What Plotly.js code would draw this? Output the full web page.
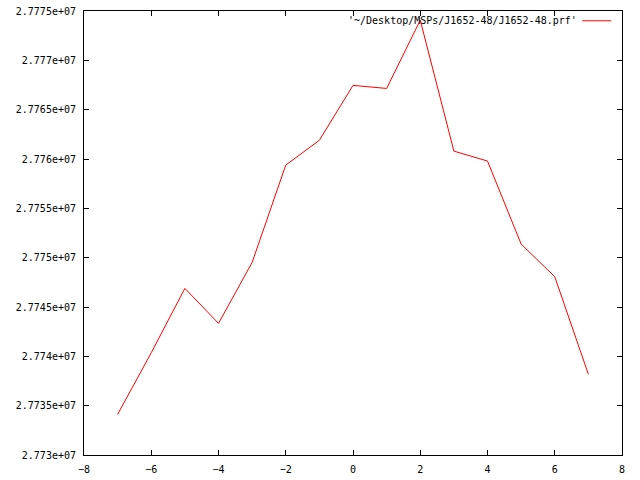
<!DOCTYPE html>
<html>
<head>
<meta charset="utf-8">
<script src="https://cdn.plot.ly/plotly-3.0.1.min.js"></script>
<style>html,body{margin:0;padding:0;background:#fff;}#chart{width:640px;height:480px;}</style>
</head>
<body>
<div id="chart"></div>
<script>
const xValues = [-7, -6, -5, -4, -3, -2, -1, 0, 1, 2, 3, 4, 5, 6, 7];
const yValues = [27734120, 27740360, 27746890, 27743340, 27749520, 27759380, 27761900,
                 27767460, 27767150, 27774070, 27760800, 27759790, 27751380, 27748070, 27738180];
const seriesName = "'~/Desktop/MSPs/J1652-48/J1652-48.prf'";
const xTickVals = [-8, -6, -4, -2, 0, 2, 4, 6, 8];
const yTickVals = [27730000, 27735000, 27740000, 27745000, 27750000, 27755000, 27760000, 27765000, 27770000, 27775000];
const yTickText = ["2.773e+07", "2.7735e+07", "2.774e+07", "2.7745e+07", "2.775e+07",
                   "2.7755e+07", "2.776e+07", "2.7765e+07", "2.777e+07", "2.7775e+07"];

const font = {family: "DejaVu Sans Mono, monospace", size: 10, color: "#000"};

const trace = {
  x: xValues, y: yValues, type: "scatter", mode: "lines", name: seriesName,
  line: {color: "#ff0000", width: 1}, showlegend: false
};

const layout = {
  width: 640, height: 480,
  margin: {l: 84, r: 18, t: 11, b: 25, pad: 0},
  paper_bgcolor: "#fff", plot_bgcolor: "#fff",
  font: font,
  showlegend: false,
  xaxis: {
    range: [-8, 8], tickmode: "array", tickvals: xTickVals,
    ticks: "inside", ticklen: 5, tickcolor: "#000", tickwidth: 1,
    showline: true, linecolor: "#000", linewidth: 1, mirror: "ticks",
    showgrid: false, zeroline: false, tickfont: font, ticklabelstandoff: 5
  },
  yaxis: {
    range: [27730000, 27775000], tickmode: "array", tickvals: yTickVals, ticktext: yTickText,
    ticks: "inside", ticklen: 5, tickcolor: "#000", tickwidth: 1,
    showline: true, linecolor: "#000", linewidth: 1, mirror: "ticks",
    showgrid: false, zeroline: false, tickfont: font, ticklabelstandoff: 5
  },
  annotations: [{
    xref: "paper", yref: "paper", x: 0.921, y: 0.978, xanchor: "right", yanchor: "middle",
    text: seriesName, showarrow: false, font: font
  }],
  shapes: [{
    type: "line", xref: "paper", yref: "paper", x0: 0.926, x1: 0.980, y0: 0.978, y1: 0.978,
    line: {color: "#ff0000", width: 1}
  }]
};

Plotly.newPlot("chart", [trace], layout, {displayModeBar: false, staticPlot: true});
</script>
</body>
</html>
